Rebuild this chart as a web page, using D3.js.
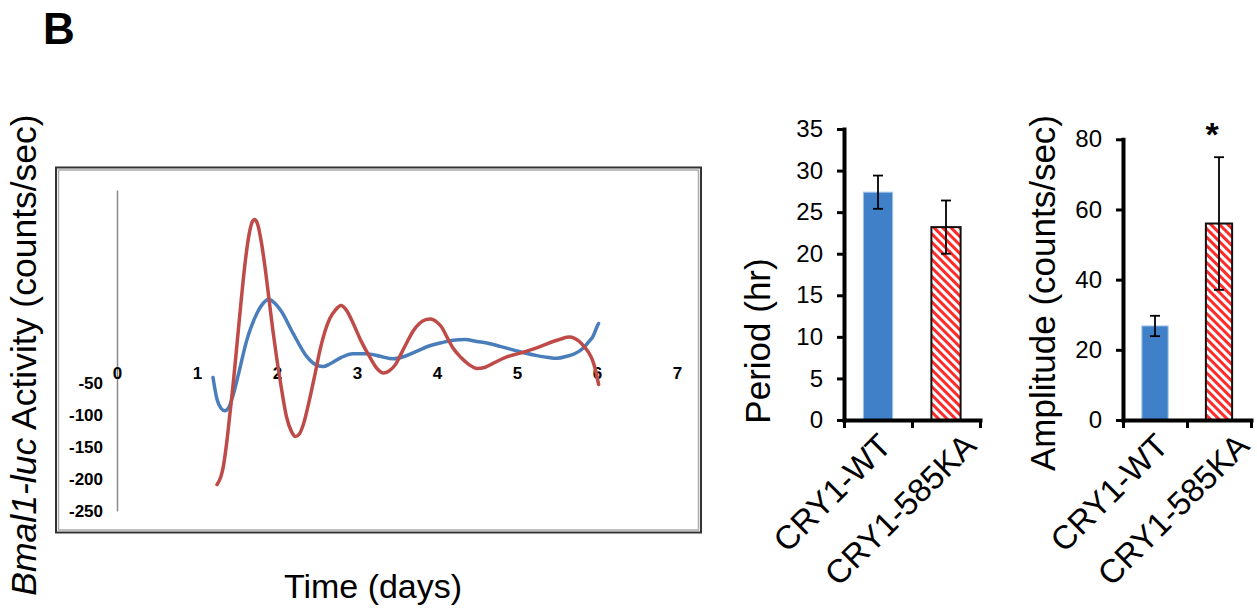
<!DOCTYPE html>
<html>
<head>
<meta charset="utf-8">
<script src="https://cdn.jsdelivr.net/npm/d3@7"></script>
<style>
body { margin: 0; background: #fff; }
svg { display: block; font-family: "Liberation Sans", Arial, sans-serif; }
</style>
</head>
<body>
<script>
// Bmal1-luc traces, [day, counts/sec]
var wtTrace = [[1.20,-42],[1.25,-76],[1.30,-90],[1.35,-94],[1.40,-88],[1.45,-70],[1.52,-36],[1.62,15],[1.75,58],[1.83,74],
    [1.90,80],[1.97,74],[2.05,62],[2.20,27],[2.37,-9],[2.50,-23],[2.58,-25],[2.66,-21],[2.80,-11],[2.95,-5],[3.12,-5],
    [3.29,-9],[3.45,-13],[3.60,-9],[3.75,-1],[3.90,7],[4.05,12],[4.20,16],[4.35,17],[4.50,14],[4.65,11],[4.80,6],[4.95,1],
    [5.10,-4],[5.25,-8],[5.40,-11],[5.50,-12],[5.62,-9],[5.72,-5],[5.83,4],[5.90,14],[5.95,22],[6.00,37],[6.02,42]];
var kaTrace = [[1.25,-209],[1.30,-196],[1.33,-180],[1.37,-145],[1.41,-100],[1.45,-55],[1.50,10],[1.55,75],[1.60,135],
    [1.65,180],[1.69,200],[1.72,204],[1.76,196],[1.80,172],[1.85,130],[1.90,80],[1.95,30],[2.00,-15],[2.05,-55],[2.12,-104],
    [2.18,-126],[2.23,-134],[2.28,-130],[2.33,-115],[2.40,-80],[2.47,-40],[2.54,2],[2.60,30],[2.66,50],[2.73,63],[2.80,70],
    [2.86,64],[2.95,43],[3.05,15],[3.15,-8],[3.25,-28],[3.33,-35],[3.40,-32],[3.48,-22],[3.56,-3],[3.63,14],[3.70,30],
    [3.78,42],[3.86,48],[3.92,49],[4.00,44],[4.06,36],[4.12,22],[4.20,4],[4.30,-11],[4.40,-22],[4.50,-28],[4.58,-27],
    [4.70,-20],[4.85,-11],[4.95,-7],[5.10,-2],[5.20,2],[5.35,9],[5.45,14],[5.55,18],[5.65,21],[5.72,19],[5.78,14],
    [5.84,6],[5.89,-2],[5.94,-14],[5.98,-30],[6.02,-53]];
var dayTicks = [0, 1, 2, 3, 4, 5, 6, 7];
var activityTicks = [-50, -100, -150, -200, -250];

var genotypes = ["CRY1-WT", "CRY1-585KA"];
var periodMean = [27.4, 23.2];
var periodErr = [2.0, 3.2];
var periodTicks = [0, 5, 10, 15, 20, 25, 30, 35];
var amplitudeMean = [26.8, 56.0];
var amplitudeErr = [2.9, 18.9];
var amplitudeTicks = [0, 20, 40, 60, 80];
var amplitudeMarks = ["", "*"];

var W = 1257, H = 608;
var svg = d3.select("body").append("svg").attr("width", W).attr("height", H);

// plain hyphen minus, like the original
var plain = function(d) { return String(d); };

// hatch for the mutant bars
svg.append("defs").append("pattern")
    .attr("id", "hatch")
    .attr("patternUnits", "userSpaceOnUse")
    .attr("width", 6).attr("height", 6)
    .attr("patternTransform", "rotate(-45)")
  .call(function(p) {
    p.append("rect").attr("width", 6).attr("height", 6).attr("fill", "#fff");
    p.append("rect").attr("width", 3).attr("height", 6).attr("fill", "#ff2b2b");
  });

// panel letter
svg.append("text").attr("x", 43).attr("y", 44)
    .attr("font-size", 44).attr("font-weight", "bold").text("B");

// ---------- left panel: luminescence traces ----------
svg.append("rect").attr("x", 56).attr("y", 167.5).attr("width", 645).attr("height", 365)
    .attr("fill", "none").attr("stroke", "#333").attr("stroke-width", 2);
svg.append("rect").attr("x", 58.5).attr("y", 170).attr("width", 640).attr("height", 360)
    .attr("fill", "none").attr("stroke", "#aaa").attr("stroke-width", 1.5);

var xL = d3.scaleLinear().domain([0, 7]).range([117, 677]);
var yL = d3.scaleLinear().domain([-250, 250]).range([511, 190]);

var yAxisL = svg.append("g").attr("transform", "translate(" + xL(0) + ",0)")
    .call(d3.axisLeft(yL).tickValues(activityTicks).tickFormat(plain)
      .tickSize(0).tickSizeOuter(0).tickPadding(14));
yAxisL.attr("font-family", null).attr("font-size", 17).attr("font-weight", "bold");
yAxisL.select(".domain").attr("stroke", "#8a8a8a").attr("stroke-width", 1.5);

var xAxisL = svg.append("g").attr("transform", "translate(0," + yL(0) + ")")
    .call(d3.axisBottom(xL).tickValues(dayTicks).tickFormat(plain).tickSize(0).tickPadding(16));
xAxisL.attr("font-family", null).attr("font-size", 17).attr("font-weight", "bold");
xAxisL.select(".domain").remove();

var line = d3.line()
    .x(function(d) { return xL(d[0]); })
    .y(function(d) { return yL(d[1]); })
    .curve(d3.curveMonotoneX);

svg.append("path").datum(wtTrace).attr("d", line)
    .attr("fill", "none").attr("stroke", "#4a7ebb").attr("stroke-width", 3.5)
    .attr("stroke-linecap", "round").attr("stroke-linejoin", "round");
svg.append("path").datum(kaTrace).attr("d", line)
    .attr("fill", "none").attr("stroke", "#be4b48").attr("stroke-width", 3.5)
    .attr("stroke-linecap", "round").attr("stroke-linejoin", "round");

// axis titles
var yt = svg.append("text").attr("transform", "translate(35.5,355) rotate(-90)")
    .attr("text-anchor", "middle").attr("font-size", 35.5);
yt.append("tspan").attr("font-style", "italic").text("Bmal1-luc");
yt.append("tspan").text(" Activity (counts/sec)");

svg.append("text").attr("x", 373).attr("y", 598).attr("text-anchor", "middle")
    .attr("font-size", 34).text("Time (days)");

// ---------- bar panels ----------
function barChart(cfg) {
  var base = 420;
  var y = d3.scaleLinear().domain([0, cfg.max]).range([base, cfg.top]);
  var x = d3.scaleBand().domain(genotypes).range([cfg.left, cfg.right])
      .paddingInner(cfg.pad).paddingOuter(cfg.pad / 2);
  var g = svg.append("g");

  g.selectAll("rect.bar").data(genotypes).enter().append("rect")
      .attr("class", "bar")
      .attr("x", function(d) { return x(d); })
      .attr("width", x.bandwidth())
      .attr("y", function(d, i) { return y(cfg.mean[i]); })
      .attr("height", function(d, i) { return base - y(cfg.mean[i]); })
      .attr("fill", function(d, i) { return i == 0 ? "#3f80c9" : "url(#hatch)"; })
      .attr("stroke", function(d, i) { return i == 0 ? "#9fc2ea" : "#111"; })
      .attr("stroke-width", function(d, i) { return i == 0 ? 1 : 2; });

  // error bars
  var eb = g.selectAll("g.err").data(genotypes).enter().append("g").attr("class", "err")
      .attr("stroke", "#000").attr("stroke-width", 1.8);
  eb.append("line")
      .attr("x1", function(d) { return x(d) + x.bandwidth() / 2; })
      .attr("x2", function(d) { return x(d) + x.bandwidth() / 2; })
      .attr("y1", function(d, i) { return y(cfg.mean[i] + cfg.err[i]); })
      .attr("y2", function(d, i) { return y(cfg.mean[i] - cfg.err[i]); });
  [1, -1].forEach(function(s) {
    eb.append("line")
        .attr("x1", function(d) { return x(d) + x.bandwidth() / 2 - 5; })
        .attr("x2", function(d) { return x(d) + x.bandwidth() / 2 + 5; })
        .attr("y1", function(d, i) { return y(cfg.mean[i] + s * cfg.err[i]); })
        .attr("y2", function(d, i) { return y(cfg.mean[i] + s * cfg.err[i]); });
  });

  // y axis
  var ya = g.append("g").attr("transform", "translate(" + cfg.left + ",0)")
      .call(d3.axisLeft(y).tickValues(cfg.ticks).tickFormat(plain).tickSize(7).tickSizeOuter(0).tickPadding(14));
  ya.attr("font-family", null).attr("font-size", 24);
  ya.select(".domain").attr("stroke-width", 4).attr("stroke-linecap", "square");
  ya.selectAll(".tick line").attr("stroke-width", 3);

  // x axis, ticks between categories
  var xb = d3.scaleLinear().domain([0, genotypes.length]).range([cfg.left, cfg.right]);
  var xa = g.append("g").attr("transform", "translate(0," + base + ")")
      .call(d3.axisBottom(xb).tickValues(d3.range(genotypes.length + 1)).tickFormat("").tickSize(8).tickSizeOuter(0));
  xa.select(".domain").attr("stroke-width", 4).attr("stroke-linecap", "square");
  xa.selectAll(".tick line").attr("stroke-width", 3);

  // rotated category labels
  genotypes.forEach(function(d) {
    var t = g.append("text").attr("text-anchor", "middle").attr("font-size", 33).text(d);
    var L = t.node().getComputedTextLength();
    var c = x(d) + x.bandwidth() / 2;
    var mx = c - 46 + 0.25 * 33;
    var my = 431 + 0.354 * L + 0.506 * 33;
    t.attr("transform", "translate(" + mx + "," + my + ") rotate(-45)");
  });

  if (cfg.marks) {
    g.selectAll("text.mark").data(genotypes).enter().append("text")
        .attr("class", "mark")
        .attr("x", function(d) { return x(d) + x.bandwidth() / 2 - 7; })
        .attr("y", 146)
        .attr("text-anchor", "middle").attr("font-size", 34).attr("font-weight", "bold")
        .text(function(d, i) { return cfg.marks[i]; });
  }

  g.append("text").attr("transform", "translate(" + cfg.titleX + "," + cfg.titleY + ") rotate(-90)")
      .attr("text-anchor", "middle").attr("font-size", 35).text(cfg.title);
}

barChart({ left: 844, right: 980, top: 129, max: 35, pad: 0.57,
  mean: periodMean, err: periodErr, ticks: periodTicks,
  title: "Period (hr)", titleX: 770, titleY: 341 });

barChart({ left: 1123, right: 1251, top: 139.3, max: 80, pad: 0.59,
  mean: amplitudeMean, err: amplitudeErr, ticks: amplitudeTicks, marks: amplitudeMarks,
  title: "Amplitude (counts/sec)", titleX: 1055, titleY: 293 });
</script>
</body>
</html>
